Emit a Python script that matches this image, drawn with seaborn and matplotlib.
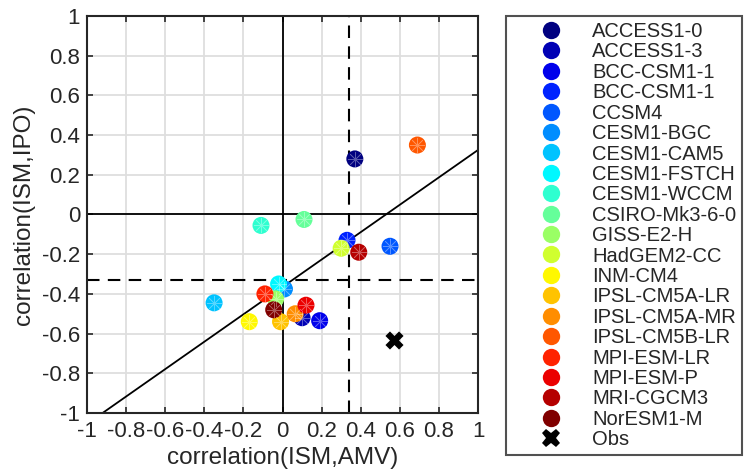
import numpy as np
import pandas as pd
import matplotlib
matplotlib.use("Agg")
import matplotlib.pyplot as plt
import seaborn as sns
from matplotlib.lines import Line2D

models = ["ACCESS1-0", "ACCESS1-3", "BCC-CSM1-1", "BCC-CSM1-1", "CCSM4",
          "CESM1-BGC", "CESM1-CAM5", "CESM1-FSTCH", "CESM1-WCCM", "CSIRO-Mk3-6-0",
          "GISS-E2-H", "HadGEM2-CC", "INM-CM4", "IPSL-CM5A-LR", "IPSL-CM5A-MR",
          "IPSL-CM5B-LR", "MPI-ESM-LR", "MPI-ESM-P", "MRI-CGCM3", "NorESM1-M"]
ism_amv = [0.37, 0.10, 0.19, 0.33, 0.55,
           0.01, -0.35, -0.02, -0.11, 0.11,
           -0.035, 0.30, -0.17, -0.01, 0.065,
           0.69, -0.09, 0.12, 0.39, -0.045]
ism_ipo = [0.28, -0.52, -0.535, -0.13, -0.16,
           -0.375, -0.445, -0.35, -0.055, -0.025,
           -0.425, -0.17, -0.54, -0.54, -0.50,
           0.35, -0.40, -0.457, -0.19, -0.48]
obs_amv = [0.57]
obs_ipo = [-0.63]
thr_amv = 0.34
thr_ipo = -0.33
fit_slope = 0.69
fit_intercept = -0.365

ticks = [-1, -0.8, -0.6, -0.4, -0.2, 0, 0.2, 0.4, 0.6, 0.8, 1]
ticklabels = ["-1", "-0.8", "-0.6", "-0.4", "-0.2", "0", "0.2", "0.4", "0.6", "0.8", "1"]

sns.set_style("white")
plt.rcParams['font.family'] = ['Liberation Sans', 'DejaVu Sans']


def matlab_jet(n):
    x = np.linspace(0, 1, n)
    r = np.clip(1.5 - np.abs(4 * x - 3), 0, 1)
    g = np.clip(1.5 - np.abs(4 * x - 2), 0, 1)
    b = np.clip(1.5 - np.abs(4 * x - 1), 0, 1)
    return list(zip(r, g, b))


keys = [f"{i:02d}_{m}" for i, m in enumerate(models)]
df = pd.DataFrame({"key": keys, "model": models, "x": ism_amv, "y": ism_ipo})
cols = matlab_jet(len(models))
palette = {k: tuple(c) for k, c in zip(keys, cols)}

fig = plt.figure(figsize=(7.49, 4.69), dpi=100)
ax = fig.add_axes([87/749, 1-413/469, 391/749, 397/469])

tc = "#262626"
ax.grid(True, color="#dedede", linewidth=1.3, zorder=0)
ax.set_axisbelow(True)
ax.axhline(0, color="black", lw=1.3, zorder=1)
ax.axvline(0, color="black", lw=1.3, zorder=1)
ax.axvline(thr_amv, color="black", lw=1.5, ls=(0, (6, 4)), zorder=1)
ax.axhline(thr_ipo, color="black", lw=1.5, ls=(0, (6, 4)), zorder=1)
xl = np.array([-1.2, 1.2])
ax.plot(xl, fit_slope * xl + fit_intercept, color="black", lw=1.3, zorder=1)

sns.scatterplot(data=df, x="x", y="y", hue="key", palette=palette, s=150,
                linewidth=0, ax=ax, zorder=3, legend=True)
sns.scatterplot(data=df, x="x", y="y", marker=(8, 2, 0), s=110, color="white",
                alpha=0.35, linewidth=0.5, edgecolor="white", ax=ax, zorder=4, legend=False)
sns.scatterplot(x=obs_amv, y=obs_ipo, marker="X", s=170, color="black",
                linewidth=0, ax=ax, zorder=5, legend=False)

ax.get_legend().remove()

ax.set_xlim(-1, 1)
ax.set_ylim(-1, 1)
ax.set_xticks(ticks)
ax.set_xticklabels(ticklabels)
ax.set_yticks(ticks)
ax.set_yticklabels(ticklabels)
ax.tick_params(direction="in", length=4, width=1.2, colors=tc, labelsize=16,
               top=True, right=True, bottom=True, left=True)
ax.tick_params(axis="x", pad=6)
ax.tick_params(axis="y", pad=5)
for sp in ax.spines.values():
    sp.set_visible(True)
    sp.set_color(tc)
    sp.set_linewidth(1.5)
ax.set_xlabel("correlation(ISM,AMV)", fontsize=17.5, color=tc, labelpad=3)
ax.set_ylabel("correlation(ISM,IPO)", fontsize=17.5, color=tc, labelpad=5)

handles = [Line2D([], [], marker="o", ls="none", markersize=12.5,
                  markerfacecolor=palette[k], markeredgewidth=0) for k in keys]
handles.append(Line2D([], [], marker="X", ls="none", markersize=13,
                      markerfacecolor="black", markeredgewidth=0))
labels = models + ["Obs"]
leg = fig.legend(handles, labels, loc="upper left", bbox_to_anchor=(506/749, 1-16/469),
                 fontsize=14.5, frameon=True, fancybox=False, labelspacing=0.07,
                 handlelength=3.88, handletextpad=0.1, borderpad=0.3, borderaxespad=0)
leg.get_frame().set_edgecolor(tc)
leg.get_frame().set_linewidth(1.5)

fig.savefig("out.png", dpi=100)
